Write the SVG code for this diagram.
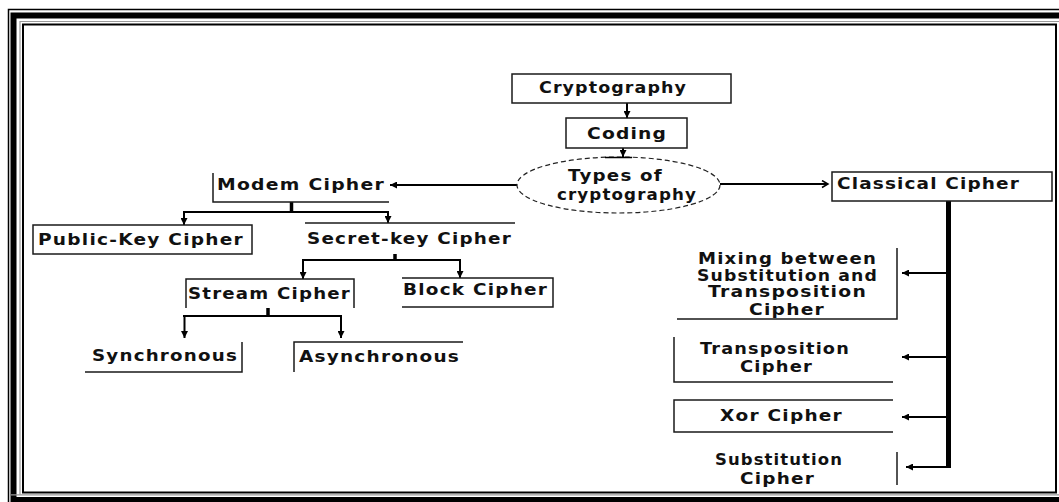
<svg xmlns="http://www.w3.org/2000/svg" width="1059" height="502" viewBox="0 0 1059 502">
  <defs>
    <marker id="head" markerUnits="userSpaceOnUse" markerWidth="8" markerHeight="7" refX="7" refY="3.5" orient="auto">
      <path d="M0,0 L7,3.5 L0,7 z" fill="#000"/>
    </marker>
    <marker id="chevron" markerUnits="userSpaceOnUse" markerWidth="9" markerHeight="9" refX="7" refY="4.5" orient="auto">
      <path d="M1,1 L7,4.5 L1,8" fill="none" stroke="#000" stroke-width="1.5"/>
    </marker>
    <style>
      .box { fill: none; stroke: #1a1a1a; stroke-width: 1.5; }
      .lbl { font-family: "DejaVu Sans", "Liberation Sans", sans-serif; font-weight: bold; font-size: 15px; letter-spacing: 1px; fill: #111; }
      .big { font-size: 16px; }
      .wire { fill: none; stroke: #000; stroke-width: 2; }
      .stub { fill: none; stroke: #000; stroke-width: 3.5; }
      .to { marker-end: url(#head); }
    </style>
  </defs>
  <rect width="1059" height="502" fill="#fff"/>

  <!-- page frame: thin outer rule, heavy band, grey rule, inner rule -->
  <g id="frame" fill="none">
    <path d="M8.5,502 V9.5 H1059" stroke="#000" stroke-width="1.5"/>
    <path d="M13.5,502 V15.5 H1059" stroke="#000" stroke-width="6"/>
    <path d="M11,500 H1059" stroke="#000" stroke-width="6"/>
    <path d="M20,494.5 V21.5 H1059" stroke="#999" stroke-width="1.2"/>
    <path d="M11,494.8 H1059" stroke="#999" stroke-width="1.2"/>
    <rect x="23" y="24.5" width="1033" height="468" stroke="#000" stroke-width="2"/>
  </g>

  <g id="connectors">
    <path class="wire to" d="M627,103 V118"/>
    <path class="wire to" d="M623,148 V157"/>
    <path class="wire to" d="M517,185 H390"/>
    <path class="wire" d="M720,184 H828" marker-end="url(#chevron)"/>

    <!-- modern cipher branches -->
    <path class="stub" d="M291.5,202 V212"/>
    <path class="wire" d="M183,212 H389"/>
    <path class="wire to" d="M184,212 V225"/>
    <path class="wire to" d="M388,212 V223"/>

    <!-- secret-key branches -->
    <path class="stub" d="M395,254 V260"/>
    <path class="wire" d="M302,260 H461"/>
    <path class="wire to" d="M303,260 V279"/>
    <path class="wire to" d="M460,260 V278"/>

    <!-- stream branches -->
    <path class="stub" d="M268,308 V316"/>
    <path class="wire" d="M183,316 H342"/>
    <path class="wire to" d="M184.5,316 V338" stroke-width="3"/>
    <path class="wire to" d="M341,316 V338"/>

    <!-- classical trunk -->
    <path d="M948.5,201 V468" stroke="#000" stroke-width="5"/>
    <path class="wire to" d="M947,273 H902"/>
    <path class="wire to" d="M947,357 H902"/>
    <path class="wire to" d="M947,417 H902"/>
    <path class="wire to" d="M947,467 H906"/>
  </g>

  <g id="cryptography">
    <rect class="box" x="512" y="74" width="219" height="29"/>
    <text class="lbl big" x="539" y="93" textLength="148" lengthAdjust="spacingAndGlyphs">Cryptography</text>
  </g>
  <g id="coding">
    <rect class="box" x="566" y="118" width="121" height="30"/>
    <text class="lbl big" x="587" y="139" textLength="80" lengthAdjust="spacingAndGlyphs">Coding</text>
  </g>
  <g id="types">
    <ellipse cx="618.5" cy="185" rx="101.5" ry="28" fill="none" stroke="#222" stroke-width="1.2" stroke-dasharray="5 3"/>
    <path d="M605,157.5 H632" stroke="#000" stroke-width="1.5"/>
    <text class="lbl" x="568" y="181" textLength="95" lengthAdjust="spacingAndGlyphs">Types of</text>
    <text class="lbl" x="557" y="200" textLength="140" lengthAdjust="spacingAndGlyphs">cryptography</text>
  </g>
  <g id="modern">
    <path class="box" d="M213,173 V202 H389"/>
    <text class="lbl" x="217" y="190" textLength="168" lengthAdjust="spacingAndGlyphs">Modem Cipher</text>
  </g>
  <g id="classical">
    <rect class="box" x="832" y="172" width="220" height="29"/>
    <text class="lbl big" x="837" y="189" textLength="183" lengthAdjust="spacingAndGlyphs">Classical Cipher</text>
  </g>
  <g id="public-key">
    <rect class="box" x="33" y="225" width="219" height="29"/>
    <text class="lbl" x="38" y="245" textLength="206" lengthAdjust="spacingAndGlyphs">Public-Key Cipher</text>
  </g>
  <g id="secret-key">
    <path class="box" d="M305,223 H515"/>
    <text class="lbl" x="307" y="244" textLength="205" lengthAdjust="spacingAndGlyphs">Secret-key Cipher</text>
  </g>
  <g id="stream">
    <path class="box" d="M186,308 V279 H354 V308"/>
    <text class="lbl" x="188" y="299" textLength="163" lengthAdjust="spacingAndGlyphs">Stream Cipher</text>
  </g>
  <g id="block">
    <path class="box" d="M402,278 H553 V307 H402"/>
    <text class="lbl" x="403" y="295" textLength="145" lengthAdjust="spacingAndGlyphs">Block Cipher</text>
  </g>
  <g id="synchronous">
    <path class="box" d="M242,342 V372 H85"/>
    <text class="lbl" x="92" y="361" textLength="146" lengthAdjust="spacingAndGlyphs">Synchronous</text>
  </g>
  <g id="asynchronous">
    <path class="box" d="M294,372 V342 H463"/>
    <text class="lbl" x="299" y="362" textLength="161" lengthAdjust="spacingAndGlyphs">Asynchronous</text>
  </g>
  <g id="mixing">
    <path class="box" d="M897,248 V319 H677"/>
    <text class="lbl" x="698" y="264" textLength="179" lengthAdjust="spacingAndGlyphs">Mixing between</text>
    <text class="lbl" x="697" y="281" textLength="181" lengthAdjust="spacingAndGlyphs">Substitution and</text>
    <text class="lbl" x="708" y="297" textLength="159" lengthAdjust="spacingAndGlyphs">Transposition</text>
    <text class="lbl" x="749" y="315" textLength="76" lengthAdjust="spacingAndGlyphs">Cipher</text>
  </g>
  <g id="transposition">
    <path class="box" d="M674,337 V382 H893"/>
    <text class="lbl" x="700" y="354" textLength="150" lengthAdjust="spacingAndGlyphs">Transposition</text>
    <text class="lbl" x="740" y="372" textLength="73" lengthAdjust="spacingAndGlyphs">Cipher</text>
  </g>
  <g id="xor">
    <path class="box" d="M893,400 H674 V432 H893"/>
    <text class="lbl" x="720" y="421" textLength="123" lengthAdjust="spacingAndGlyphs">Xor Cipher</text>
  </g>
  <g id="substitution">
    <path class="box" d="M897,452 V485"/>
    <text class="lbl" x="715" y="465" textLength="128" lengthAdjust="spacingAndGlyphs">Substitution</text>
    <text class="lbl" x="740" y="484" textLength="75" lengthAdjust="spacingAndGlyphs">Cipher</text>
  </g>
</svg>
